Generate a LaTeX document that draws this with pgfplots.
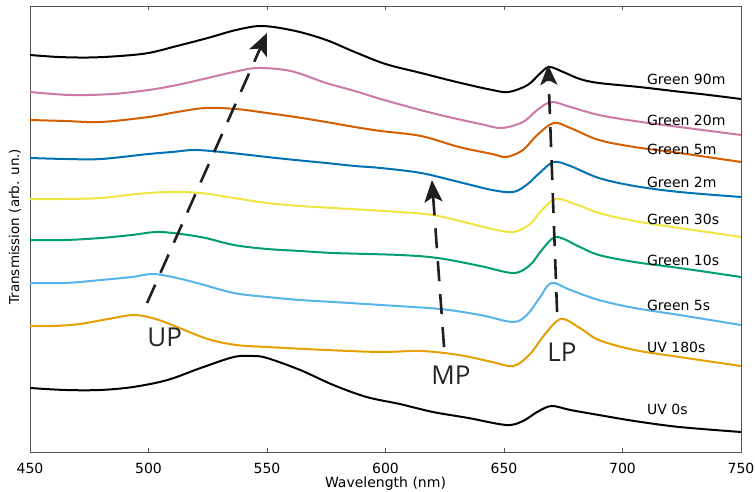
\documentclass[border=0pt]{standalone}
\usepackage{pgfplots}
\pgfplotsset{compat=1.18}
\usepackage{fontspec}
\setmainfont{DejaVu Sans}
\newfontfamily\annfont{Open Sans}
\usetikzlibrary{arrows.meta}
\definecolor{cpink}{HTML}{CC79A7}
\definecolor{cverm}{HTML}{D55E00}
\definecolor{cblue}{HTML}{0072B2}
\definecolor{cyell}{HTML}{F0E442}
\definecolor{cgreen}{HTML}{009E73}
\definecolor{csky}{HTML}{56B4E9}
\definecolor{corange}{HTML}{E69F00}
\definecolor{spine}{HTML}{555555}
\pgfplotsset{spec/.style={line width=2pt, smooth, tension=0.55, line join=round},
  darr/.style={color=black!88, line width=2.6pt, sharp plot, dash pattern=on 20pt off 13pt}}
\begin{document}
\begin{tikzpicture}
\begin{axis}[
  scale only axis, width=711pt, height=446pt,
  xmin=450, xmax=750, ymin=-452, ymax=-6,
  xtick={450,500,...,750}, ytick=\empty,
  tick align=inside, major tick length=4pt,
  axis line style={spine, line width=0.9pt},
  every tick/.style={spine, line width=0.8pt},
  tick label style={font=\fontsize{14}{16}\selectfont},
  /pgf/number format/assume math mode=true,
  /pgf/number format/1000 sep={},
  xticklabel style={yshift=-8pt},
  xlabel={Wavelength (nm)},
  xlabel style={font=\fontsize{14}{16}\selectfont, yshift=4pt},
  ylabel={Transmission (arb. un.)},
  ylabel style={font=\fontsize{13.5}{16}\selectfont, at={(axis description cs:-0.008,0.505)}, anchor=south},
  clip=false,
]
\coordinate (sw) at (rel axis cs:0,0);
\coordinate (ne) at (rel axis cs:1,1);
% Green 90m
\addplot[spec, black] coordinates {(450,-55) (462,-57) (475,-57.5) (488,-56) (500,-53) (512,-46) (525,-38) (537,-30) (548,-26) (562,-31) (575,-40) (587,-52) (600,-64) (615,-73) (630,-82) (645,-90) (652,-92) (660,-85) (665,-74) (669,-67) (675,-72) (682,-79) (690,-83) (707,-87) (725,-92) (733,-94) (750,-99)};
% Green 20m
\addplot[spec, cpink] coordinates {(450,-92) (467,-95) (485,-94) (500,-90) (512,-85) (525,-78) (536,-72) (546,-68) (560,-71) (575,-83) (587,-91) (598,-99) (610,-107) (623,-115) (640,-124) (649,-128) (658,-122) (664,-110) (670,-102) (678,-107) (690,-115) (705,-121) (724,-127) (750,-135)};
% Green 5m
\addplot[spec, cverm] coordinates {(450,-120) (465,-121) (480,-122) (500,-117) (512,-112) (524,-108) (537,-109) (550,-113) (562,-117) (575,-122) (587,-127) (598,-131) (615,-136) (631,-147) (645,-154) (651,-157) (658,-150) (664,-135) (671,-123) (678,-128) (690,-140) (705,-147) (724,-153) (750,-162)};
% Green 2m
\addplot[spec, cblue] coordinates {(450,-158) (465,-159) (480,-159) (500,-154) (510,-152) (520,-150) (535,-153) (550,-157) (562,-160) (575,-163) (587,-166) (598,-168) (615,-173) (631,-182) (645,-190) (654,-192) (660,-184) (665,-173) (671,-162) (678,-166) (690,-178) (705,-186) (724,-192) (750,-197)};
% Green 30s
\addplot[spec, cyell] coordinates {(450,-199) (465,-199) (480,-198) (495,-194) (509,-192) (522,-193) (536,-198) (550,-203) (564,-206) (578,-208) (606,-212) (620,-215) (633,-222) (645,-229) (654,-232) (661,-224) (666,-210) (672,-199) (680,-204) (690,-213) (705,-221) (724,-228) (750,-237)};
% Green 10s
\addplot[spec, cgreen] coordinates {(450,-240) (465,-240) (480,-238) (493,-235) (505,-232) (522,-237) (536,-245) (550,-249) (564,-251) (578,-253) (606,-255) (622,-258) (640,-266) (654,-273) (661,-265) (666,-250) (672,-237) (682,-247) (690,-255) (705,-262) (724,-268) (750,-277)};
% Green 5s
\addplot[spec, csky] coordinates {(450,-283) (465,-283) (480,-280) (493,-277) (502,-274) (512,-278) (522,-284) (536,-293) (550,-297) (564,-300) (578,-302) (598,-305) (623,-309) (640,-315) (654,-322) (660,-314) (665,-298) (670,-283) (678,-290) (690,-300) (705,-308) (724,-315) (750,-325)};
% UV 180s
\addplot[spec, corange] coordinates {(450,-326) (460,-326) (471,-324) (483,-319) (494,-315) (503,-319) (511,-326) (525,-339) (537,-345) (550,-347) (575,-350) (598,-352) (615,-351) (631,-355) (645,-362) (654,-366) (661,-354) (667,-335) (674,-319) (682,-328) (690,-340) (705,-350) (724,-357) (750,-366)};
% UV 0s
\addplot[spec, black] coordinates {(450,-388) (465,-390) (479.5,-390) (493.5,-387) (508,-380) (522,-368) (536,-357) (544,-356) (550,-358) (564,-370) (578,-385) (592,-397) (606,-404) (620,-412) (635,-418) (651,-425) (658,-421) (664,-412) (670,-406) (678,-410) (690,-415) (705,-421) (724,-427) (750,-432)};
% arrows
\addplot[darr, -{Stealth[length=22pt,width=19pt,inset=5pt]}] coordinates {(499.4,-303) (550,-33)};
\addplot[darr, -{Stealth[length=22pt,width=18pt,inset=5pt]}] coordinates {(624.7,-347) (619.6,-180)};
\addplot[darr, -{Stealth[length=20pt,width=17pt,inset=5pt]}] coordinates {(672.4,-312) (668.6,-65)};
% labels
\begin{scope}[every node/.style={anchor=west, font=\fontsize{14}{16}\selectfont, inner sep=0pt}]
\node at (axis cs:710.3,-79) {Green 90m};
\node at (axis cs:710.3,-120) {Green 20m};
\node at (axis cs:710.3,-149) {Green 5m};
\node at (axis cs:710.3,-182) {Green 2m};
\node at (axis cs:710.3,-219) {Green 30s};
\node at (axis cs:710.3,-260) {Green 10s};
\node at (axis cs:710.3,-305) {Green 5s};
\node at (axis cs:710.3,-347) {UV 180s};
\node at (axis cs:710.3,-409) {UV 0s};
\end{scope}
\begin{scope}[every node/.style={font=\annfont\fontsize{26}{28}\selectfont, inner sep=0pt, text=black!85}]
\node at (axis cs:506.8,-337) {UP};
\node at (axis cs:627.6,-375) {MP};
\node at (axis cs:674.5,-352) {LP};
\end{scope}
\end{axis}
\pgfresetboundingbox
\path ([shift={(-30pt,-40pt)}]sw) rectangle ([shift={(14pt,6pt)}]ne);
\end{tikzpicture}
\end{document}
